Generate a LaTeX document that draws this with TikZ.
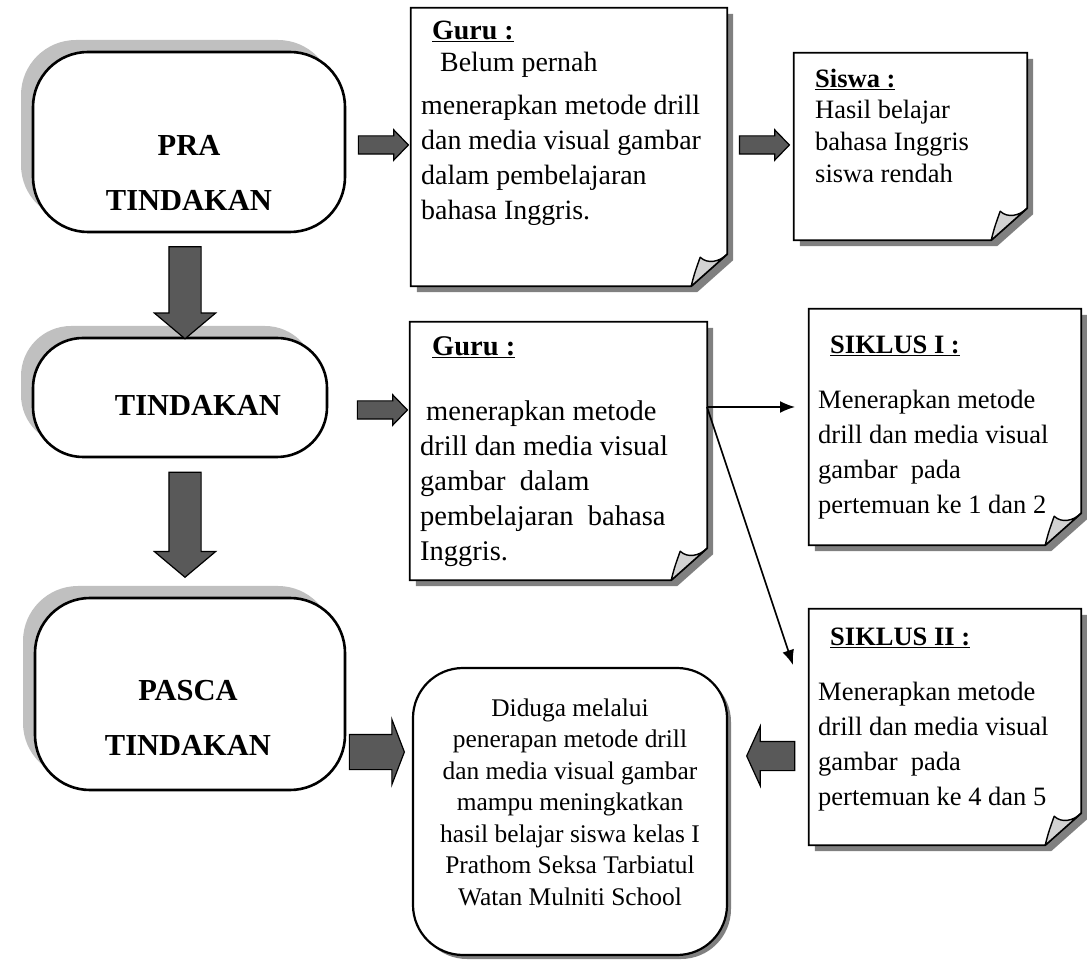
\documentclass[tikz,border=0pt]{standalone}
\usepackage{fontspec}
\setmainfont{Liberation Serif}
\usetikzlibrary{shapes.arrows}
\usetikzlibrary{shadows}
\usetikzlibrary{arrows.meta}
\pgfdeclarelayer{edgelayer}
\pgfdeclarelayer{nodelayer}
\pgfsetlayers{edgelayer,nodelayer,main}
\definecolor{arrowgray}{RGB}{89,89,89}
\definecolor{termgray}{RGB}{192,192,192}
\definecolor{shadegray}{RGB}{128,128,128}
\definecolor{flapgray}{RGB}{210,210,210}
\tikzstyle{none}=[inner sep=0pt]
\tikzstyle{terminal}=[rectangle,draw=black,line width=2.6pt,fill=white,rounded corners=55pt,drop shadow={shadow xshift=-12pt,shadow yshift=12pt,fill=termgray,opacity=1}]
\tikzstyle{termtext}=[inner sep=0pt,align=center,font=\fontsize{30.5pt}{55pt}\selectfont\bfseries]
\tikzstyle{notebox}=[rectangle,inner sep=0pt]
\tikzstyle{notetext}=[inner sep=0pt,align=left,anchor=north west,font=\fontsize{26.5pt}{35pt}\selectfont]
\tikzstyle{noteline}=[draw=black,line width=1.8pt,fill=white]
\tikzstyle{noteshadow}=[fill=shadegray]
\tikzstyle{flap}=[draw=black,line width=1.4pt,fill=flapgray,line join=round]
\tikzstyle{bigbox}=[rectangle,draw=black,line width=2.2pt,fill=white,rounded corners=50pt,align=center,font=\fontsize{25.4pt}{31.5pt}\selectfont,drop shadow={shadow xshift=4pt,shadow yshift=-4pt,fill=shadegray,opacity=1}]
\tikzstyle{fat}=[single arrow,draw=black,line width=1.2pt,fill=arrowgray,inner xsep=0pt]
\tikzstyle{transition}=[-{Latex[length=15pt,width=12pt]},draw=black,line width=1.6pt]
% folded corner sheet drawn round a notebox node
\newcommand{\foldnote}[1]{%
	\fill[style=noteshadow] ([shift={(6pt,-6pt)}]#1.north west) -- ([shift={(6pt,-6pt)}]#1.north east) -- ([shift={(6pt,26pt)}]#1.south east) -- ([shift={(-30pt,-6pt)}]#1.south east) -- ([shift={(6pt,-6pt)}]#1.south west) -- cycle;
	\draw[style=noteline] (#1.north west) -- (#1.north east) -- ([yshift=32pt]#1.south east) -- ([xshift=-36pt]#1.south east) -- (#1.south west) -- cycle;
	\draw[style=flap] ([xshift=-36pt]#1.south east) .. controls ([shift={(-33pt,12pt)}]#1.south east) .. ([shift={(-27pt,29pt)}]#1.south east) .. controls ([shift={(-20pt,22pt)}]#1.south east) and ([shift={(-8pt,24pt)}]#1.south east) .. ([yshift=32pt]#1.south east) -- cycle;
}

\begin{document}
\begin{tikzpicture}[x=1pt,y=1pt]
	\useasboundingbox (0,0) rectangle (1087,962);
	\begin{pgfonlayer}{nodelayer}
		\node [style=terminal, minimum width=312pt, minimum height=180pt] (0) at (189, 820) {};
		\node [style=terminal, minimum width=294pt, minimum height=119pt, rounded corners=50pt] (1) at (180, 564.5) {};
		\node [style=terminal, minimum width=310pt, minimum height=192pt] (2) at (190, 268) {};
		\node [style=termtext] (30) at (189, 789.5) {PRA\\TINDAKAN};
		\node [style=termtext] (31) at (198, 557) {TINDAKAN};
		\node [style=termtext] (32) at (188, 244) {PASCA\\TINDAKAN};
		\node [style=notebox, minimum width=316pt, minimum height=278pt] (3) at (569, 815) {};
		\node [style=notebox, minimum width=233pt, minimum height=187pt] (4) at (910.5, 815.5) {};
		\node [style=notebox, minimum width=297pt, minimum height=258pt] (5) at (558.5, 511) {};
		\node [style=notebox, minimum width=272pt, minimum height=236pt] (6) at (945, 535) {};
		\node [style=notebox, minimum width=272pt, minimum height=236pt] (7) at (945, 235) {};
		\node [style=notetext, font=\fontsize{27.9pt}{35pt}\selectfont] (33) at (421, 941) {\hspace*{11pt}\underline{\textbf{Guru :}}\\[-3pt]\hspace*{19pt}Belum pernah\\[8pt]menerapkan metode drill\\dan media visual gambar\\dalam pembelajaran\\bahasa Inggris.};
		\node [style=notetext] (34) at (815, 893) {\underline{\textbf{Siswa :}}\\[-4pt]Hasil belajar\\[-3pt]bahasa Inggris\\[-3pt]siswa rendah};
		\node [style=notetext, font=\fontsize{28.5pt}{35pt}\selectfont] (35) at (420, 626) {\hspace*{12pt}\underline{\textbf{Guru :}}\\[30pt]\hspace*{6pt}menerapkan metode\\drill dan media visual\\gambar\ \ dalam\\pembelajaran\ \ bahasa\\Inggris.};
		\node [style=notetext] (36) at (818, 626) {\hspace*{12pt}\underline{\textbf{SIKLUS I :}}\\[20pt]Menerapkan metode\\drill dan media visual\\gambar\ \ pada\\pertemuan ke 1 dan 2};
		\node [style=notetext] (37) at (818, 334) {\hspace*{12pt}\underline{\textbf{SIKLUS II :}}\\[20pt]Menerapkan metode\\drill dan media visual\\gambar\ \ pada\\pertemuan ke 4 dan 5};
		\node [style=bigbox, minimum width=314pt, minimum height=287pt] (8) at (570, 150.5) {Diduga melalui\\penerapan metode drill\\dan media visual gambar\\mampu meningkatkan\\hasil belajar siswa kelas I\\Prathom Seksa Tarbiatul\\Watan Mulniti School\\[-12pt]};
		\node [style=fat, inner ysep=8.5pt, minimum height=50pt, minimum width=29pt, single arrow head extend=6pt, single arrow tip angle=92] (10) at (379, 817) {};
		\node [style=fat, inner ysep=8.5pt, minimum height=50pt, minimum width=29pt, single arrow head extend=6pt, single arrow tip angle=92] (11) at (760, 817) {};
		\node [style=fat, inner ysep=8.5pt, minimum height=50pt, minimum width=29pt, single arrow head extend=6pt, single arrow tip angle=92] (12) at (378, 552) {};
		\node [style=fat, rotate=-90, inner ysep=15.5pt, minimum height=92pt, minimum width=60pt, single arrow head extend=14.5pt, single arrow tip angle=100] (13) at (185, 676) {};
		\node [style=fat, rotate=-90, inner ysep=15.5pt, minimum height=105pt, minimum width=60pt, single arrow head extend=14.5pt, single arrow tip angle=100] (14) at (185, 444) {};
		\node [style=fat, inner ysep=17pt, minimum height=55pt, minimum width=65pt, single arrow head extend=15pt, single arrow tip angle=138] (15) at (373.5, 210) {};
		\node [style=fat, rotate=180, inner ysep=14pt, minimum height=48pt, minimum width=58pt, single arrow head extend=15pt, single arrow tip angle=131] (16) at (774, 206) {};
		\coordinate (20) at (707, 555);
		\coordinate (21) at (795, 555);
		\coordinate (22) at (793, 297);
	\end{pgfonlayer}
	\begin{pgfonlayer}{edgelayer}
		\foldnote{3}
		\foldnote{4}
		\foldnote{5}
		\foldnote{6}
		\foldnote{7}
		\draw [style=transition] (20) to (21);
		\draw [style=transition] (20) to (22);
	\end{pgfonlayer}
\end{tikzpicture}
\end{document}
